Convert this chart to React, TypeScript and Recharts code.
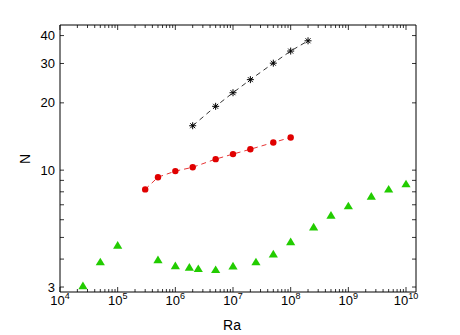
import {
  ScatterChart,
  Scatter,
  XAxis,
  YAxis,
  ReferenceArea,
} from "recharts";

// ─── data ─────────────────────────────────────────────────────────────────────

const starRa = [2e6, 5e6, 1e7, 2e7, 5e7, 1e8, 2e8];
const starN = [15.8, 19.3, 22.2, 25.4, 30.1, 34.1, 37.9];

const circleRa = [3e5, 5e5, 1e6, 2e6, 5e6, 1e7, 2e7, 5e7, 1e8];
const circleN = [8.2, 9.3, 9.9, 10.3, 11.2, 11.8, 12.4, 13.3, 14.0];

const triRa = [
  2.5e4, 5e4, 1e5, 5e5, 1e6, 1.75e6, 2.5e6, 5e6, 1e7, 2.5e7, 5e7, 1e8, 2.5e8,
  5e8, 1e9, 2.5e9, 5e9, 1e10,
];
const triN = [
  3.05, 3.9, 4.63, 3.99, 3.75, 3.69, 3.64, 3.6, 3.74, 3.9, 4.23, 4.8, 5.59,
  6.31, 6.95, 7.67, 8.25, 8.72,
];

const X_MAJOR = [1e4, 1e5, 1e6, 1e7, 1e8, 1e9, 1e10];
const X_MINOR_STEPS = [2, 3, 4, 5, 6, 7, 8, 9];
const Y_TICKS = [3, 4, 5, 6, 7, 8, 9, 10, 20, 30, 40];
const Y_LABELS = [3, 10, 20, 30, 40];

const X_DOMAIN: [number, number] = [1e4, 1.49e10];
const Y_DOMAIN: [number, number] = [2.85, 44.6];

// ─── layout ───────────────────────────────────────────────────────────────────

const W = 460;
const H = 335;
const PLOT_W = 356;
const PLOT_H = 267;
const FONT = "'Liberation Sans', Arial, Helvetica, sans-serif";

const zip = (xs: number[], ys: number[]) => xs.map((x, i) => ({ ra: x, n: ys[i] }));

const xTicks = X_MAJOR.flatMap((m) => [
  m,
  ...X_MINOR_STEPS.map((s) => m * s).filter((v) => v <= X_DOMAIN[1]),
]).filter((v) => v <= X_DOMAIN[1]);

// ─── ticks ────────────────────────────────────────────────────────────────────

function XTick({ x, y, payload }: any) {
  const v = payload.value as number;
  const exp = Math.round(Math.log10(v));
  const major = Math.abs(Math.log10(v) - exp) < 1e-6;
  const len = major ? 5 : 3;
  return (
    <g>
      <line x1={x} y1={y} x2={x} y2={y - len} stroke="#000" strokeWidth={0.8} />
      <line x1={x} y1={y - PLOT_H} x2={x} y2={y - PLOT_H + len} stroke="#000" strokeWidth={0.8} />
      {major && (
        <text x={x} y={y + 13} textAnchor="middle" fontFamily={FONT} fontSize={13} fill="#000">
          <tspan>10</tspan>
          <tspan dy={-6} fontSize={9}>
            {exp}
          </tspan>
        </text>
      )}
    </g>
  );
}

function YTick({ x, y, payload }: any) {
  const v = payload.value as number;
  const labeled = Y_LABELS.includes(v);
  return (
    <g>
      <line x1={x} y1={y} x2={x + 4} y2={y} stroke="#000" strokeWidth={0.8} />
      <line x1={x + PLOT_W} y1={y} x2={x + PLOT_W - 4} y2={y} stroke="#000" strokeWidth={0.8} />
      {labeled && (
        <text x={x - 5} y={y + 4.5} textAnchor="end" fontFamily={FONT} fontSize={13} fill="#000">
          {v}
        </text>
      )}
    </g>
  );
}

// ─── markers ──────────────────────────────────────────────────────────────────

function Asterisk({ cx, cy }: any) {
  const r = 3.5;
  const d = r * 0.707;
  return (
    <g stroke="#000" strokeWidth={1}>
      <line x1={cx - r} y1={cy} x2={cx + r} y2={cy} />
      <line x1={cx} y1={cy - r} x2={cx} y2={cy + r} />
      <line x1={cx - d} y1={cy - d} x2={cx + d} y2={cy + d} />
      <line x1={cx - d} y1={cy + d} x2={cx + d} y2={cy - d} />
    </g>
  );
}

function Dot({ cx, cy }: any) {
  return <circle cx={cx} cy={cy} r={3.2} fill="#e00000" />;
}

function Triangle({ cx, cy }: any) {
  const hw = 4.6;
  const hh = 3.8;
  return (
    <polygon
      points={`${cx},${cy - hh} ${cx + hw},${cy + hh} ${cx - hw},${cy + hh}`}
      fill="#22cc00"
    />
  );
}

// ─── main component ───────────────────────────────────────────────────────────

export default function App() {
  return (
    <div style={{ position: "absolute", left: 0, top: 0, width: W, height: H, background: "#fff" }}>
      <ScatterChart width={W} height={H} margin={{ top: 25, right: 44, left: 10, bottom: 13 }}>
        <XAxis
          dataKey="ra"
          type="number"
          scale="log"
          domain={X_DOMAIN}
          allowDataOverflow
          ticks={xTicks}
          interval={0}
          tickSize={0}
          tickMargin={0}
          axisLine={false}
          height={30}
          tick={<XTick />}
          label={{
            content: (p: any) => (
              <text
                x={p.viewBox.x + 172}
                y={p.viewBox.y + 38}
                textAnchor="middle"
                fontFamily={FONT}
                fontSize={14}
                fill="#000"
              >
                Ra
              </text>
            ),
          }}
        />
        <YAxis
          dataKey="n"
          type="number"
          scale="log"
          domain={Y_DOMAIN}
          allowDataOverflow
          ticks={Y_TICKS}
          interval={0}
          tickSize={0}
          tickMargin={0}
          axisLine={false}
          width={50}
          tick={<YTick />}
          label={{
            content: () => (
              <text
                x={25}
                y={159}
                dy="0.35em"
                textAnchor="middle"
                transform="rotate(-90, 25, 159)"
                fontFamily={FONT}
                fontSize={14}
                fill="#000"
              >
                N
              </text>
            ),
          }}
        />
        <ReferenceArea
          x1={X_DOMAIN[0]}
          x2={X_DOMAIN[1]}
          y1={Y_DOMAIN[0]}
          y2={Y_DOMAIN[1]}
          fill="none"
          stroke="#000"
          strokeWidth={1}
          ifOverflow="visible"
        />
        <Scatter
          data={zip(triRa, triN)}
          shape={<Triangle />}
          isAnimationActive={false}
        />
        <Scatter
          data={zip(circleRa, circleN)}
          line={{ stroke: "#e00000", strokeWidth: 0.8, strokeDasharray: "5 4" }}
          lineType="joint"
          shape={<Dot />}
          isAnimationActive={false}
        />
        <Scatter
          data={zip(starRa, starN)}
          line={{ stroke: "#000", strokeWidth: 0.8, strokeDasharray: "5 4" }}
          lineType="joint"
          shape={<Asterisk />}
          isAnimationActive={false}
        />
      </ScatterChart>
    </div>
  );
}
